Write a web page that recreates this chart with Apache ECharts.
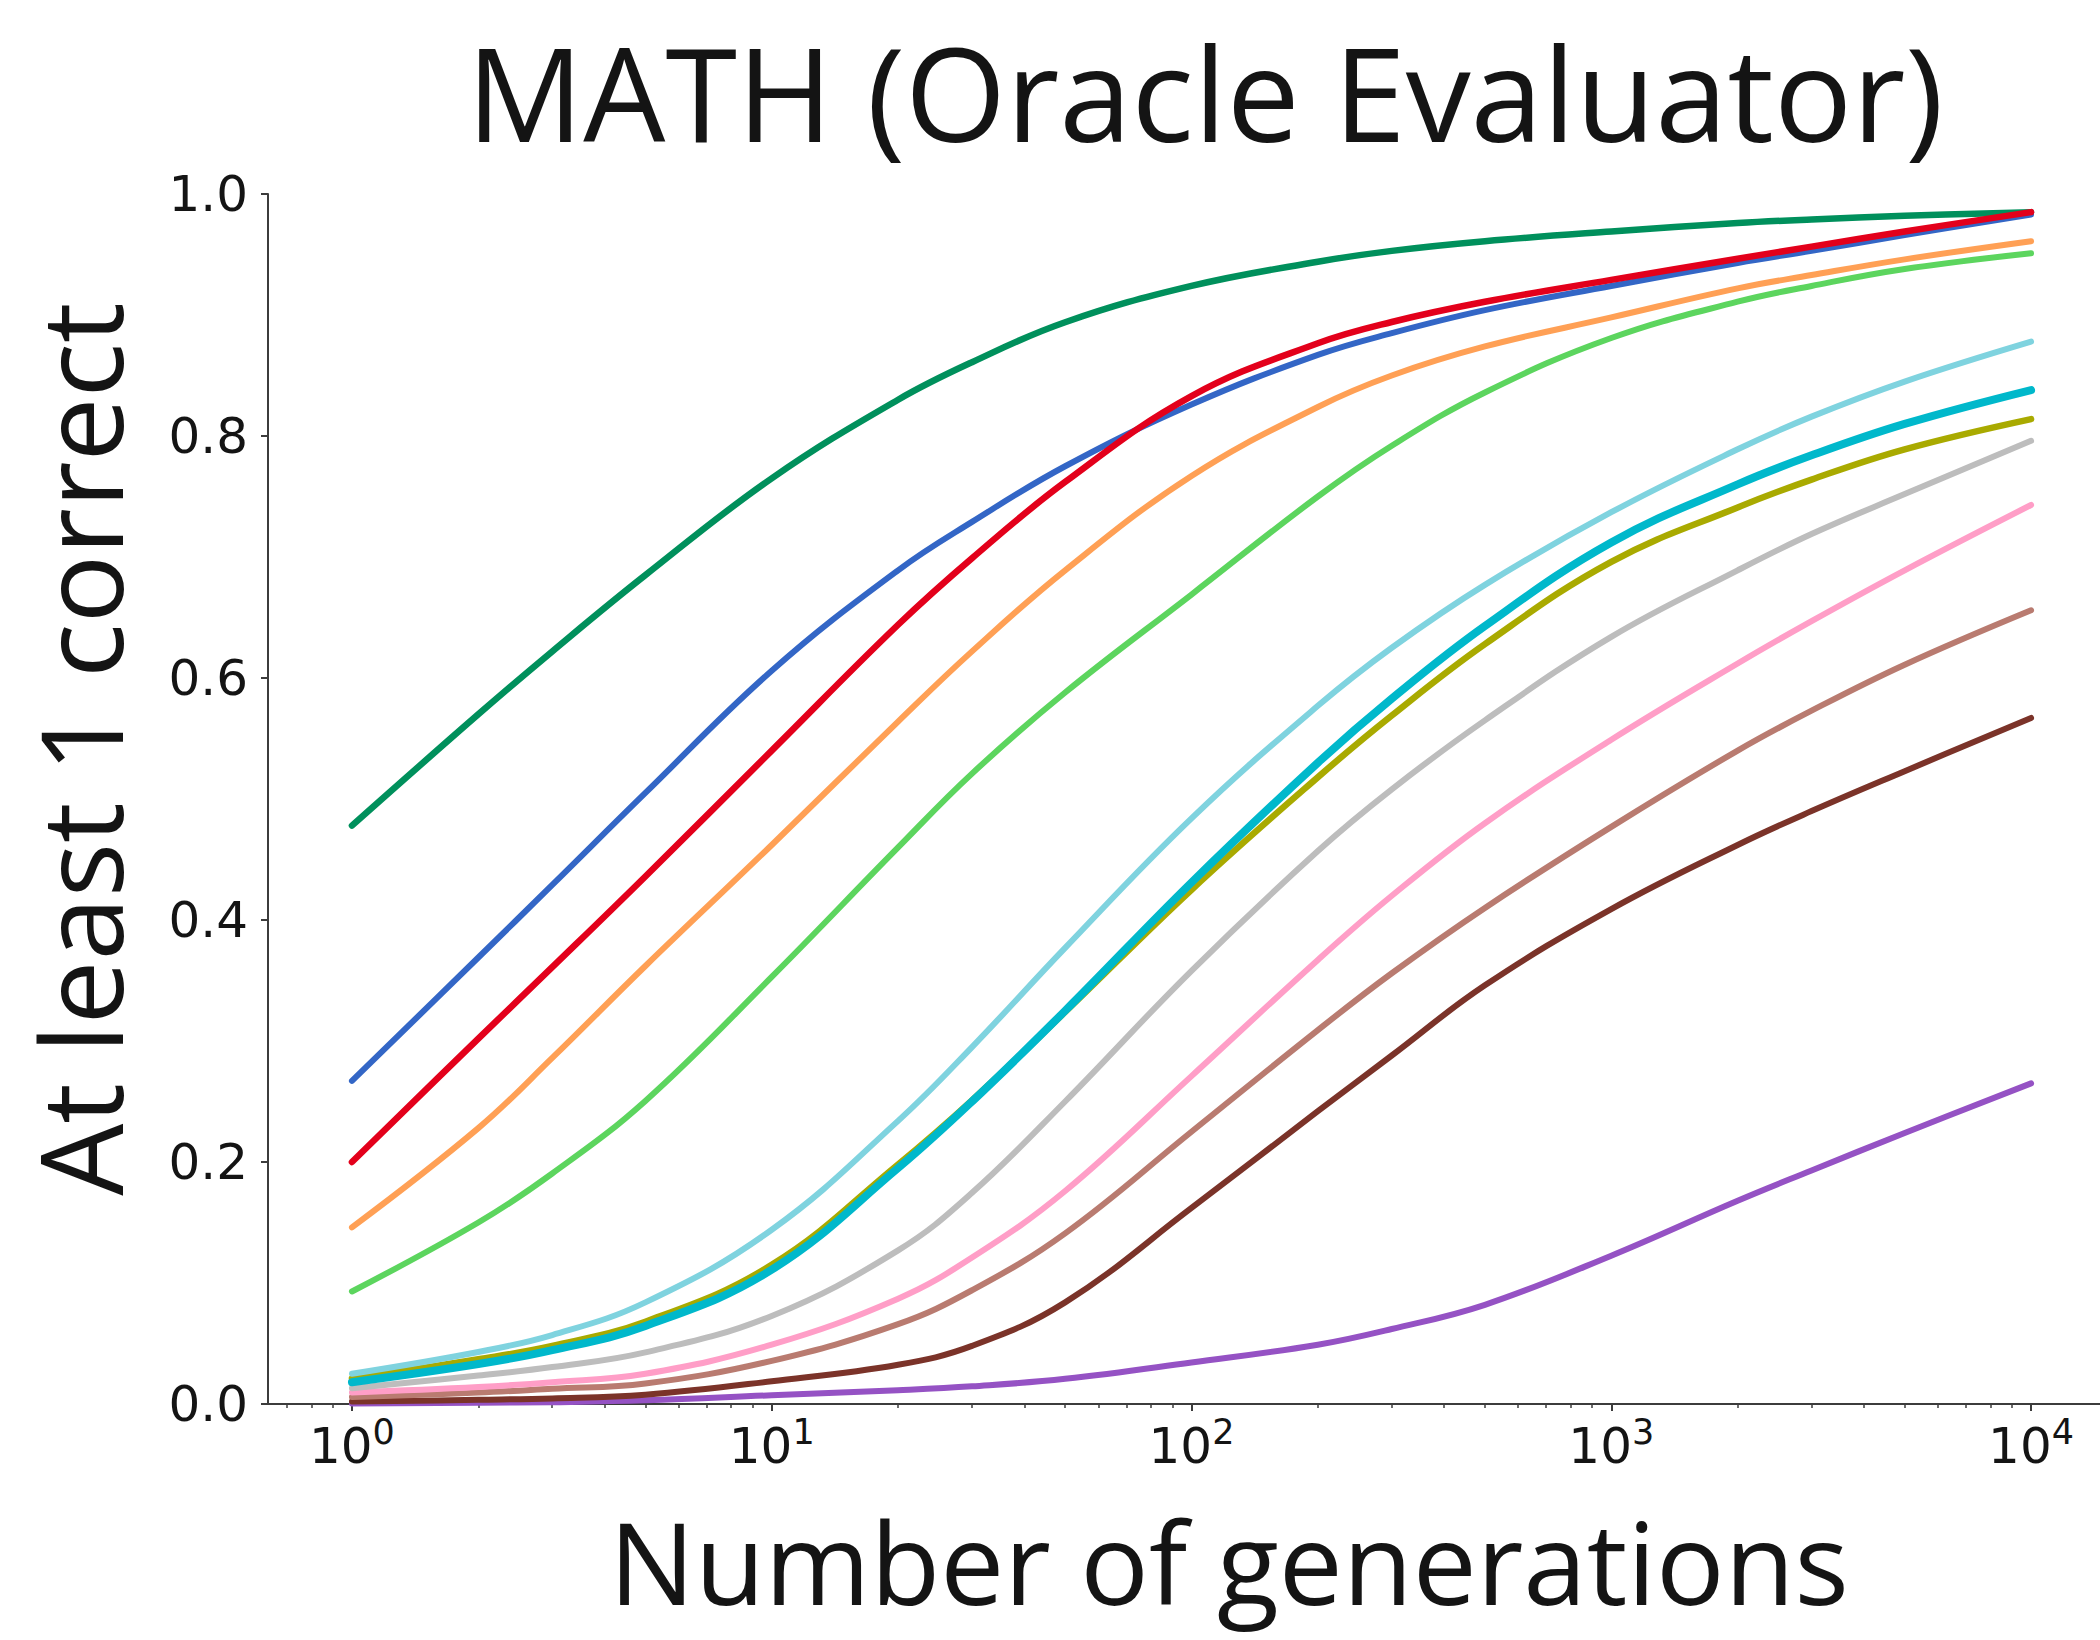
<!DOCTYPE html>
<html>
<head>
<meta charset="utf-8">
<title>MATH (Oracle Evaluator)</title>
<script src="https://cdn.jsdelivr.net/npm/echarts@6/dist/echarts.min.js"></script>
<style>
  html, body { margin: 0; padding: 0; background: #ffffff; }
  #chart { width: 2100px; height: 1640px; }
</style>
</head>
<body>
<div id="chart"></div>
<script>
// Number of generations sampled (x values, log scale)
const generations = [1, 2, 3, 5, 10, 20, 30, 50, 100, 200, 300, 500, 1000, 2000, 3000, 5000, 10000];

// Fraction of problems with at least one correct answer, one list per model
const purpleRun    = [0.0005, 0.001, 0.0015, 0.003, 0.0072, 0.0114, 0.0146, 0.0208, 0.0343, 0.049, 0.062, 0.082, 0.1226, 0.168, 0.193, 0.224, 0.265];
const darkBrownRun = [0.002, 0.0035, 0.0046, 0.0077, 0.0188, 0.0325, 0.048, 0.084, 0.162, 0.242, 0.288, 0.346, 0.409, 0.462, 0.490, 0.523, 0.567];
const rosyRun      = [0.0058, 0.0094, 0.0126, 0.017, 0.0357, 0.066, 0.094, 0.141, 0.225, 0.309, 0.356, 0.410, 0.477, 0.540, 0.573, 0.611, 0.656];
const pinkRun      = [0.0095, 0.014, 0.018, 0.025, 0.049, 0.087, 0.121, 0.176, 0.271, 0.367, 0.420, 0.480, 0.549, 0.612, 0.647, 0.689, 0.743];
const grayRun      = [0.013, 0.0235, 0.0305, 0.0427, 0.0728, 0.127, 0.1745, 0.250, 0.358, 0.457, 0.508, 0.565, 0.634, 0.689, 0.719, 0.752, 0.796];
const oliveRun     = [0.021, 0.037, 0.048, 0.068, 0.115, 0.198, 0.251, 0.324, 0.425, 0.518, 0.569, 0.628, 0.696, 0.741, 0.764, 0.789, 0.814];
const lightCyanRun = [0.025, 0.043, 0.057, 0.084, 0.144, 0.234, 0.295, 0.377, 0.484, 0.577, 0.625, 0.677, 0.737, 0.789, 0.816, 0.845, 0.878];
const cyanRun      = [0.018, 0.033, 0.0445, 0.0645, 0.111, 0.195, 0.250, 0.325, 0.431, 0.530, 0.583, 0.643, 0.712, 0.760, 0.784, 0.810, 0.838];
const lightGreenRun= [0.093, 0.150, 0.1905, 0.2505, 0.353, 0.460, 0.521, 0.588, 0.669, 0.750, 0.792, 0.836, 0.881, 0.911, 0.924, 0.938, 0.951];
const orangeRun    = [0.146, 0.228, 0.286, 0.362, 0.462, 0.564, 0.622, 0.689, 0.767, 0.824, 0.850, 0.874, 0.898, 0.922, 0.933, 0.946, 0.961];
const darkGreenRun = [0.478, 0.570, 0.622, 0.685, 0.765, 0.830, 0.861, 0.894, 0.924, 0.944, 0.953, 0.961, 0.969, 0.976, 0.979, 0.982, 0.985];
const blueRun      = [0.267, 0.369, 0.429, 0.505, 0.606, 0.689, 0.729, 0.775, 0.826, 0.867, 0.885, 0.904, 0.924, 0.943, 0.953, 0.966, 0.983];
const redRun       = [0.200, 0.302, 0.361, 0.436, 0.540, 0.644, 0.699, 0.762, 0.833, 0.8766, 0.8942, 0.9109, 0.929, 0.9465, 0.9565, 0.969, 0.985];

// Tick values
const yTicks = [0, 0.2, 0.4, 0.6, 0.8, 1.0];
const xMajorTicks = [1, 10, 100, 1000, 10000];
const xMinorTicks = [0.7, 0.8, 0.9,
  2, 3, 4, 5, 6, 7, 8, 9,
  20, 30, 40, 50, 60, 70, 80, 90,
  200, 300, 400, 500, 600, 700, 800, 900,
  2000, 3000, 4000, 5000, 6000, 7000, 8000, 9000];

// Line style per model, in drawing order
const runs = [
  { values: purpleRun,     color: '#9552c4', width: 6 },
  { values: darkBrownRun,  color: '#7b3329', width: 6 },
  { values: rosyRun,       color: '#b97b70', width: 6 },
  { values: pinkRun,       color: '#ff9ec7', width: 6 },
  { values: grayRun,       color: '#bdbdbd', width: 6 },
  { values: oliveRun,      color: '#a9aa00', width: 6.5 },
  { values: lightCyanRun,  color: '#7fd3df', width: 6 },
  { values: cyanRun,       color: '#00b8cb', width: 8 },
  { values: lightGreenRun, color: '#5cd55e', width: 6 },
  { values: orangeRun,     color: '#ffa055', width: 6 },
  { values: darkGreenRun,  color: '#00905c', width: 6.5 },
  { values: blueRun,       color: '#3366c6', width: 6 },
  { values: redRun,        color: '#e3001b', width: 6.5 }
];

const axisColor = '#3c3c3c';
const textColor = '#141414';
const logMin = Math.pow(10, -0.2);
const logMax = Math.pow(10, 4.2);

const chart = echarts.init(document.getElementById('chart'), null, { renderer: 'svg' });

const option = {
  animation: false,
  backgroundColor: '#ffffff',
  title: {
    text: 'MATH (Oracle Evaluator)',
    left: 1205,
    top: 26,
    textAlign: 'center',
    padding: 0,
    textStyle: {
      fontFamily: 'Open Sans',
      fontSize: 130,
      lineHeight: 130,
      fontWeight: 'normal',
      color: textColor
    }
  },
  grid: {
    left: 268,
    top: 194,
    right: -15,
    bottom: 236,
    containLabel: false,
    outerBoundsMode: 'none'
  },
  xAxis: [
    {
      type: 'log',
      logBase: 10,
      min: logMin,
      max: logMax,
      name: 'Number of generations',
      nameLocation: 'middle',
      nameGap: 99,
      nameTextStyle: {
        fontFamily: 'Open Sans',
        fontSize: 114,
        lineHeight: 114,
        color: textColor,
        padding: [0, 0, 0, 75]
      },
      axisLine: { show: true, lineStyle: { color: axisColor, width: 2 } },
      axisTick: {
        show: true,
        inside: false,
        length: 7,
        customValues: xMajorTicks,
        lineStyle: { color: axisColor, width: 2 }
      },
      minorTick: { show: false },
      splitLine: { show: false },
      axisLabel: {
        show: true,
        margin: 10,
        customValues: xMajorTicks,
        formatter: function (v) {
          return '{b|10}{s|' + Math.round(Math.log10(v)) + '}';
        },
        rich: {
          b: { fontFamily: 'DejaVu Sans', fontSize: 50, lineHeight: 64, color: textColor },
          s: { fontFamily: 'DejaVu Sans', fontSize: 35, lineHeight: 30, verticalAlign: 'top', color: textColor }
        }
      }
    },
    {
      type: 'log',
      logBase: 10,
      min: logMin,
      max: logMax,
      position: 'bottom',
      axisLine: { show: false },
      axisTick: {
        show: true,
        inside: false,
        length: 4,
        customValues: xMinorTicks,
        lineStyle: { color: axisColor, width: 1.5 }
      },
      axisLabel: { show: false },
      splitLine: { show: false }
    }
  ],
  yAxis: {
    type: 'value',
    min: 0,
    max: 1,
    interval: 0.2,
    name: 'At least 1 correct',
    nameLocation: 'middle',
    nameRotate: 90,
    nameGap: 133,
    nameTextStyle: {
      fontFamily: 'Open Sans',
      fontSize: 114,
      lineHeight: 114,
      color: textColor,
      padding: [0, 0, 0, 100]
    },
    axisLine: { show: true, lineStyle: { color: axisColor, width: 2 } },
    axisTick: {
      show: true,
      inside: false,
      length: 7,
      customValues: yTicks,
      lineStyle: { color: axisColor, width: 2 }
    },
    splitLine: { show: false },
    axisLabel: {
      margin: 20,
      customValues: yTicks,
      fontFamily: 'DejaVu Sans',
      fontSize: 50,
      color: textColor,
      formatter: function (v) { return v.toFixed(1); }
    }
  },
  series: runs.map(function (run) {
    return {
      type: 'line',
      xAxisIndex: 0,
      data: generations.map(function (n, i) { return [n, run.values[i]]; }),
      showSymbol: false,
      symbol: 'none',
      smooth: 0.4,
      clip: false,
      lineStyle: { color: run.color, width: run.width, cap: 'round', join: 'round' },
      emphasis: { disabled: true }
    };
  })
};

chart.setOption(option);
</script>
</body>
</html>
